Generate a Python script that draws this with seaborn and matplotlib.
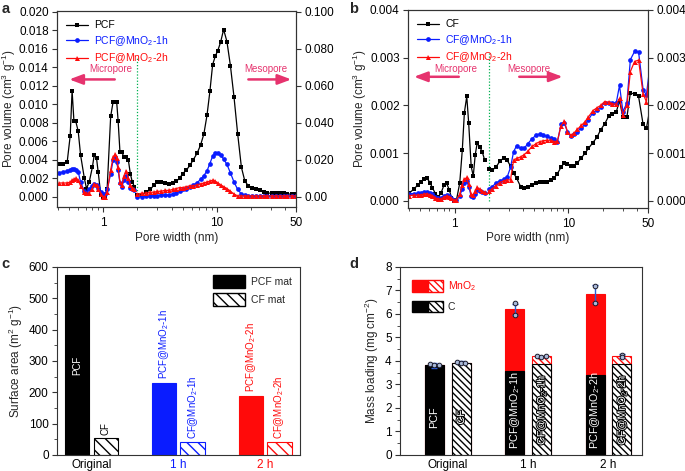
import matplotlib
matplotlib.use('Agg')
import matplotlib.pyplot as plt
import matplotlib.patheffects as pe
from matplotlib.lines import Line2D
from matplotlib.patches import Patch
from matplotlib.legend_handler import HandlerTuple
from matplotlib.ticker import FixedLocator, MultipleLocator, NullFormatter
import pandas as pd
import seaborn as sns

# ---------------- data ----------------
# panel a : PCF series (pore width nm, pore volume cm3/g)
a_micro_x = [0.41, 0.44, 0.48, 0.51, 0.53, 0.55, 0.57, 0.60, 0.63, 0.68,
             0.71, 0.75, 0.80, 0.83, 0.87, 0.90, 0.95, 0.99, 1.03, 1.08,
             1.16, 1.22, 1.27, 1.31, 1.35, 1.40, 1.46, 1.52, 1.59, 1.66,
             1.73, 1.80, 1.88]
a_pcf_micro = [0.0035, 0.0036, 0.0038, 0.0066, 0.0115, 0.0082, 0.0082, 0.0071, 0.0045, 0.0020,
               0.0009, 0.0016, 0.0032, 0.0045, 0.0042, 0.0027, 0.0002, 0.0000, 0.0000, 0.0009,
               0.0087, 0.0103, 0.0103, 0.0103, 0.0082, 0.0049, 0.0048, 0.0043, 0.0043, 0.0040,
               0.0025, 0.0016, 0.0011]
a_1h_micro = [0.0026, 0.0027, 0.0028, 0.0029, 0.0030, 0.0030, 0.0029, 0.0027, 0.0016, 0.0006,
              0.0004, 0.0008, 0.0012, 0.0014, 0.0013, 0.0010, 0.0005, 0.0003, 0.0003, 0.0008,
              0.0025, 0.0040, 0.0043, 0.0038, 0.0029, 0.0015, 0.0011, 0.0018, 0.0023, 0.0016,
              0.0010, 0.0008, 0.0007]
a_2h_micro = [0.0015, 0.0015, 0.0015, 0.0016, 0.0018, 0.0019, 0.0020, 0.0018, 0.0012, 0.0005,
              0.0004, 0.0004, 0.0009, 0.0014, 0.0013, 0.0009, 0.0003, 0.0000, 0.0000, 0.0005,
              0.0029, 0.0043, 0.0046, 0.0042, 0.0032, 0.0016, 0.0013, 0.0022, 0.0028, 0.0020,
              0.0013, 0.0010, 0.0008]
a_meso_x = [2.0, 2.2, 2.4, 2.6, 2.8, 3.0, 3.2, 3.5, 3.8, 4.1,
            4.4, 4.7, 5.0, 5.4, 5.8, 6.2, 6.7, 7.2, 7.7, 8.2,
            8.7, 9.2, 9.7, 10.2, 10.8, 11.5, 12.3, 13.2, 14.2, 15.3,
            16.5, 17.7, 19.0, 20.5, 22, 24, 26, 28, 30.5, 33,
            36, 39, 42, 46, 50]
a_pcf_meso = [0.0002, 0.0002, 0.0005, 0.0008, 0.0013, 0.0016, 0.0016, 0.0015, 0.0014, 0.0015,
              0.0017, 0.0020, 0.0025, 0.0029, 0.0034, 0.0040, 0.0047, 0.0056, 0.0068, 0.0088,
              0.0114, 0.0143, 0.0152, 0.0158, 0.0167, 0.0181, 0.0168, 0.0142, 0.0108, 0.0068,
              0.0032, 0.0017, 0.0012, 0.0010, 0.0008, 0.0007, 0.0005, 0.0004, 0.0004, 0.0004,
              0.0004, 0.0004, 0.0003, 0.0003, 0.0003]
a_1h_meso = [0.0000, 0.0000, 0.0001, 0.0001, 0.0001, 0.0001, 0.0002, 0.0002, 0.0002, 0.0003,
             0.0004, 0.0006, 0.0008, 0.0009, 0.0011, 0.0013, 0.0015, 0.0019, 0.0023, 0.0028,
             0.0036, 0.0044, 0.0047, 0.0047, 0.0045, 0.0041, 0.0035, 0.0026, 0.0016, 0.0008,
             0.0003, 0.0002, 0.0001, 0.0001, 0.0001, 0.0001, 0.0001, 0.0001, 0.0001, 0.0001,
             0.0001, 0.0001, 0.0001, 0.0001, 0.0001]
a_2h_meso = [0.0003, 0.0004, 0.0004, 0.0005, 0.0005, 0.0006, 0.0006, 0.0007, 0.0007, 0.0008,
             0.0009, 0.0010, 0.0010, 0.0011, 0.0012, 0.0012, 0.0013, 0.0014, 0.0015, 0.0016,
             0.0017, 0.0018, 0.0017, 0.0015, 0.0013, 0.0011, 0.0009, 0.0006, 0.0003, 0.0001,
             0.0001, 0.0001, 0.0001, 0.0001, 0.0001, 0.0001, 0.0001, 0.0001, 0.0001, 0.0001,
             0.0001, 0.0001, 0.0001, 0.0001, 0.0001]

# panel b : CF series
b_micro_x = [0.40, 0.44, 0.48, 0.51, 0.54, 0.57, 0.61, 0.64, 0.68, 0.72,
             0.76, 0.81, 0.85, 0.90, 0.94, 0.99, 1.04, 1.11, 1.17, 1.22,
             1.28, 1.33, 1.40, 1.46, 1.52, 1.58, 1.67, 1.75, 1.84]
b_cf_micro = [0.00016, 0.00025, 0.00034, 0.00040, 0.00046, 0.00048, 0.00038, 0.00027, 0.00015, 0.00008,
              0.00016, 0.00034, 0.00037, 0.00023, 0.00006, 0.00000, 0.00002, 0.00037, 0.00107, 0.00185,
              0.00219, 0.00164, 0.00072, 0.00052, 0.00097, 0.00121, 0.00112, 0.00103, 0.00085]
b_1h_micro = [0.00015, 0.00015, 0.00016, 0.00017, 0.00018, 0.00019, 0.00017, 0.00014, 0.00009, 0.00005,
              0.00006, 0.00010, 0.00012, 0.00011, 0.00006, 0.00002, 0.00002, 0.00010, 0.00025, 0.00038,
              0.00042, 0.00030, 0.00010, 0.00008, 0.00015, 0.00023, 0.00021, 0.00018, 0.00017]
b_2h_micro = [0.00011, 0.00012, 0.00012, 0.00013, 0.00014, 0.00015, 0.00013, 0.00011, 0.00006, 0.00004,
              0.00004, 0.00008, 0.00010, 0.00009, 0.00005, 0.00001, 0.00001, 0.00014, 0.00033, 0.00045,
              0.00049, 0.00035, 0.00014, 0.00012, 0.00020, 0.00028, 0.00024, 0.00020, 0.00018]
b_meso_x = [2.0, 2.15, 2.3, 2.5, 2.7, 2.9, 3.1, 3.3, 3.5, 3.8,
            4.1, 4.4, 4.8, 5.2, 5.6, 6.0, 6.5, 7.0, 7.5, 8.0,
            8.6, 9.2, 9.8, 10.5, 11.2, 12, 13, 14, 15, 16.4,
            17.8, 19.2, 20.8, 22.5, 24.2, 26.3, 28.1, 30.1, 32.6, 35,
            38.1, 41.3, 45.3, 48.4, 51.7]
b_cf_meso = [0.00066, 0.00065, 0.00070, 0.00083, 0.00090, 0.00085, 0.00073, 0.00058, 0.00048, 0.00030,
             0.00027, 0.00028, 0.00034, 0.00037, 0.00039, 0.00039, 0.00040, 0.00043, 0.00048, 0.00057,
             0.00070, 0.00080, 0.00077, 0.00073, 0.00073, 0.00080, 0.00090, 0.00100, 0.00110, 0.00122,
             0.00133, 0.00149, 0.00161, 0.00177, 0.00182, 0.00186, 0.00210, 0.00175, 0.00175, 0.00226,
             0.00224, 0.00219, 0.00160, 0.00152, 0.00190]
b_1h_meso = [0.00025, 0.00030, 0.00037, 0.00042, 0.00045, 0.00050, 0.00070, 0.00103, 0.00115, 0.00110,
             0.00110, 0.00120, 0.00130, 0.00138, 0.00140, 0.00138, 0.00135, 0.00132, 0.00130, 0.00123,
             0.00160, 0.00163, 0.00145, 0.00135, 0.00140, 0.00145, 0.00153, 0.00160, 0.00170, 0.00185,
             0.00190, 0.00197, 0.00206, 0.00206, 0.00205, 0.00205, 0.00242, 0.00187, 0.00205, 0.00296,
             0.00313, 0.00312, 0.00233, 0.00222, 0.00278]
b_2h_meso = [0.00021, 0.00025, 0.00032, 0.00038, 0.00042, 0.00044, 0.00044, 0.00085, 0.00089, 0.00092,
             0.00097, 0.00104, 0.00114, 0.00120, 0.00124, 0.00126, 0.00127, 0.00127, 0.00124, 0.00125,
             0.00157, 0.00167, 0.00145, 0.00137, 0.00142, 0.00150, 0.00158, 0.00166, 0.00176, 0.00189,
             0.00195, 0.00200, 0.00208, 0.00207, 0.00204, 0.00202, 0.00215, 0.00180, 0.00200, 0.00271,
             0.00292, 0.00295, 0.00224, 0.00208, 0.00270]

# panel c : surface area (m2/g)
groups = ['Original', '1 h', '2 h']
pcf_area = [575, 230, 188]
cf_area = [55, 43, 43]
c_pcf_labels = ['PCF', 'PCF@MnO$_2$-1h', 'PCF@MnO$_2$-2h']
c_cf_labels = ['CF', 'CF@MnO$_2$-1h', 'CF@MnO$_2$-2h']

# panel d : mass loading (mg/cm2)
pcf_c = [3.82, 3.57, 3.40]
pcf_mno2 = [0.00, 2.63, 3.45]
cf_c = [3.92, 3.87, 3.85]
cf_mno2 = [0.00, 0.33, 0.37]
pcf_err = [0.10, 0.24, 0.37]
cf_err = [0.07, 0.03, 0.09]
pcf_pts = [[3.86, 3.83, 3.81], [6.45, 5.97], [7.17, 6.45]]
cf_pts = [[3.95, 3.93, 3.92], [4.20, 4.19, 4.20], [4.27, 4.18]]

# ---------------- style ----------------
sns.set_style('ticks')
plt.rcParams['font.family'] = ['Liberation Sans', 'DejaVu Sans']
plt.rcParams['mathtext.fontset'] = 'custom'
plt.rcParams['mathtext.rm'] = 'Liberation Sans'
plt.rcParams['mathtext.it'] = 'Liberation Sans:italic'
plt.rcParams['mathtext.bf'] = 'Liberation Sans:bold'
plt.rcParams['axes.edgecolor'] = '#333333'
plt.rcParams['axes.linewidth'] = 0.8
plt.rcParams['xtick.color'] = '#333333'
plt.rcParams['ytick.color'] = '#333333'
plt.rcParams['xtick.labelcolor'] = 'black'
plt.rcParams['ytick.labelcolor'] = 'black'
plt.rcParams['xtick.major.size'] = 3.5
plt.rcParams['ytick.major.size'] = 3.5
plt.rcParams['xtick.minor.size'] = 2
plt.rcParams['ytick.minor.size'] = 2
plt.rcParams['xtick.major.width'] = 0.8
plt.rcParams['ytick.major.width'] = 0.8
plt.rcParams['xtick.minor.width'] = 0.6
plt.rcParams['ytick.minor.width'] = 0.6
plt.rcParams['ytick.major.pad'] = 2.5
plt.rcParams['hatch.linewidth'] = 1.0

BLUE = '#0a1cff'
RED = '#ff0a0a'
PINK = '#e6336e'
GREEN = '#00b050'
EBLUE = '#2a5ad8'
FS = 8.5

fig = plt.figure(figsize=(6.85, 4.71), dpi=100)
axa = fig.add_axes([0.0832, 0.5605, 0.3489, 0.4161])
axb = fig.add_axes([0.5956, 0.5584, 0.3504, 0.4204])
axc = fig.add_axes([0.0832, 0.0340, 0.3547, 0.3992])
axd = fig.add_axes([0.5839, 0.0340, 0.3533, 0.3992])


def curve(ax, x, y, color, marker, ms):
    sns.lineplot(x=x, y=y, ax=ax, color=color, marker=marker, markersize=ms,
                 markeredgewidth=0, linewidth=0.9, sort=False, estimator=None,
                 legend=False)


def pore_panel(ax, micro_x, meso_x, series, names, ylim, yticks, ylabels,
               rticks, rlabels, rscale, vline_top, texts):
    ax.set_xscale('log')
    for (mic, mes), name, (col, mk, ms) in zip(series, names,
                                               [('black', 's', 3.2), (BLUE, 'o', 3.4), (RED, '^', 3.6)]):
        curve(ax, micro_x, mic, col, mk, ms)
        curve(ax, meso_x, mes, col, mk, ms)
    ax.set_xlim(0.39, 50)
    ax.set_ylim(*ylim)
    ax.xaxis.set_major_locator(FixedLocator([1, 10, 50]))
    ax.set_xticklabels(['1', '10', '50'])
    ax.xaxis.set_minor_locator(FixedLocator([0.4, 0.5, 0.6, 0.7, 0.8, 0.9, 2, 3, 4, 5, 6, 7, 8, 9,
                                             20, 30, 40]))
    ax.xaxis.set_minor_formatter(NullFormatter())
    ax.set_yticks(yticks)
    ax.set_yticklabels(ylabels)
    ax.tick_params(labelsize=FS)
    ax.set_xlabel('Pore width (nm)', fontsize=FS, labelpad=2)
    ax.set_ylabel('Pore volume (cm$^3$ g$^{-1}$)', fontsize=FS, labelpad=1)
    ax.vlines(2, 0, vline_top, colors=GREEN, linestyles=(0, (1, 1.5)), linewidth=0.9, zorder=1)
    # micropore / mesopore annotations
    (mt, mty, ma0, ma1, ay), (st, sty, sa0, sa1) = texts
    ax.text(mt, mty, 'Micropore', color=PINK, fontsize=7, ha='center', va='center')
    ax.text(st, sty, 'Mesopore', color=PINK, fontsize=7, ha='center', va='center')
    arw = dict(arrowstyle='-|>,head_length=0.8,head_width=0.3', color=PINK, lw=1.8,
               shrinkA=0, shrinkB=0, mutation_scale=10)
    ax.annotate('', xy=(ma1, ay), xytext=(ma0, ay), arrowprops=arw)
    ax.annotate('', xy=(sa1, ay), xytext=(sa0, ay), arrowprops=arw)
    # legend
    handles = [Line2D([], [], color='black', marker='s', ms=3.2, mew=0, lw=0.9),
               Line2D([], [], color=BLUE, marker='o', ms=3.4, mew=0, lw=0.9),
               Line2D([], [], color=RED, marker='^', ms=3.6, mew=0, lw=0.9)]
    leg = ax.legend(handles, names, loc='upper left', frameon=False, fontsize=7.5,
                    handlelength=2.1, labelspacing=0.35, borderaxespad=0.5, handletextpad=0.6)
    for t, c in zip(leg.get_texts(), ['black', BLUE, RED]):
        t.set_color(c)
    # right axis
    ax2 = ax.twinx()
    ax2.set_ylim(ylim[0] * rscale, ylim[1] * rscale)
    ax2.set_yticks(rticks)
    ax2.set_yticklabels(rlabels)
    ax2.tick_params(labelsize=FS)
    ax2.grid(False)
    return ax2


pore_panel(axa, a_micro_x, a_meso_x,
           [(a_pcf_micro, a_pcf_meso), (a_1h_micro, a_1h_meso), (a_2h_micro, a_2h_meso)],
           ['PCF', 'PCF@MnO$_2$-1h', 'PCF@MnO$_2$-2h'],
           (-0.0011, 0.0201),
           [0, 0.002, 0.004, 0.006, 0.008, 0.010, 0.012, 0.014, 0.016, 0.018, 0.020],
           ['0.000', '0.002', '0.004', '0.006', '0.008', '0.010', '0.012', '0.014', '0.016',
            '0.018', '0.020'],
           [0, 0.02, 0.04, 0.06, 0.08, 0.10],
           ['0.00', '0.020', '0.040', '0.060', '0.080', '0.100'], 5, 0.0151,
           ((1.16, 0.0138, 1.26, 0.50, 0.0127), (27, 0.0138, 19, 45.5)))

pore_panel(axb, b_micro_x, b_meso_x,
           [(b_cf_micro, b_cf_meso), (b_1h_micro, b_1h_meso), (b_2h_micro, b_2h_meso)],
           ['CF', 'CF@MnO$_2$-1h', 'CF@MnO$_2$-2h'],
           (-0.00015, 0.004),
           [0, 0.001, 0.002, 0.003, 0.004],
           ['0.000', '0.001', '0.002', '0.003', '0.004'],
           [0, 0.001, 0.002, 0.003, 0.004],
           ['0.000', '0.001', '0.002', '0.003', '0.004'], 1, 0.0031,
           ((1.03, 0.00277, 1.09, 0.44, 0.00260), (4.45, 0.00277, 3.7, 8.9)))

# ---------------- panel c ----------------
dfc = pd.DataFrame({'group': groups * 2,
                    'mat': ['PCF mat'] * 3 + ['CF mat'] * 3,
                    'area': pcf_area + cf_area})
sns.barplot(data=dfc, x='group', y='area', hue='mat', order=groups,
            hue_order=['PCF mat', 'CF mat'], width=0.66, gap=0.15, errorbar=None,
            legend=False, saturation=1, ax=axc)
bars_c = sorted(axc.patches, key=lambda p: p.get_x())
grp_cols = ['black', BLUE, RED]
HC = '\\\\\\'
for i, p in enumerate(bars_c):
    col = grp_cols[i // 2]
    p.set_linewidth(0.8)
    if i % 2 == 0:
        p.set_facecolor(col)
        p.set_edgecolor(col)
    else:
        p.set_facecolor('white')
        p.set_edgecolor(col)
        p.set_hatch(HC)
for i in range(3):
    pb, cb = bars_c[2 * i], bars_c[2 * i + 1]
    xc_p = pb.get_x() + pb.get_width() / 2
    xc_c = cb.get_x() + cb.get_width() / 2
    if i == 0:
        axc.text(xc_p, pb.get_height() / 2, c_pcf_labels[i], color='white', rotation=90,
                 ha='center', va='center', fontsize=7)
    else:
        axc.text(xc_p, pb.get_height() + 12, c_pcf_labels[i], color=grp_cols[i], rotation=90,
                 ha='center', va='bottom', fontsize=7)
    axc.text(xc_c, cb.get_height() + 8, c_cf_labels[i], color=grp_cols[i], rotation=90,
             ha='center', va='bottom', fontsize=7)
axc.set_xlim(-0.396, 2.40)
axc.set_ylim(0, 600)
axc.yaxis.set_major_locator(MultipleLocator(100))
axc.yaxis.set_minor_locator(MultipleLocator(50))
axc.tick_params(labelsize=FS)
axc.tick_params(axis='x', length=0, pad=3)
for t, c in zip(axc.get_xticklabels(), grp_cols):
    t.set_color(c)
axc.set_xlabel('')
axc.set_ylabel('Surface area (m$^2$ g$^{-1}$)', fontsize=FS, labelpad=3)
for s in ['top', 'right']:
    axc.spines[s].set_visible(True)
legc = axc.legend([Patch(facecolor='black', edgecolor='black'),
                   Patch(facecolor='white', edgecolor='black', hatch=HC)],
                  ['PCF mat', 'CF mat'], loc='upper right', frameon=False, fontsize=7.5,
                  handlelength=3.0, handleheight=1.5, labelspacing=0.5,
                  borderaxespad=0.4, handletextpad=0.6)

# ---------------- panel d ----------------
HD = '\\\\\\\\\\'
tot_pcf = [c + m for c, m in zip(pcf_c, pcf_mno2)]
tot_cf = [c + m for c, m in zip(cf_c, cf_mno2)]
dfd_tot = pd.DataFrame({'group': groups * 2, 'mat': ['PCF'] * 3 + ['CF'] * 3,
                        'val': tot_pcf + tot_cf})
dfd_c = pd.DataFrame({'group': groups * 2, 'mat': ['PCF'] * 3 + ['CF'] * 3,
                      'val': pcf_c + cf_c})
bk = dict(x='group', y='val', hue='mat', order=groups, hue_order=['PCF', 'CF'],
          width=0.664, gap=0.286, errorbar=None, legend=False, saturation=1, ax=axd)
sns.barplot(data=dfd_tot, **bk)
n0 = len(axd.patches)
top_bars = sorted(axd.patches[:n0], key=lambda p: p.get_x())
sns.barplot(data=dfd_c, **bk)
c_bars = sorted(axd.patches[n0:], key=lambda p: p.get_x())
for i, p in enumerate(top_bars):
    p.set_linewidth(0.8)
    p.set_edgecolor(RED)
    if i % 2 == 0:
        p.set_facecolor(RED)
    else:
        p.set_facecolor('white')
        p.set_hatch(HD)
for i, p in enumerate(c_bars):
    p.set_linewidth(0.8)
    p.set_edgecolor('black')
    if i % 2 == 0:
        p.set_facecolor('black')
    else:
        p.set_facecolor('white')
        p.set_hatch(HD)

d_pcf_labels = ['PCF', 'PCF@MnO$_2$-1h', 'PCF@MnO$_2$-2h']
d_cf_labels = ['CF', 'CF@MnO$_2$-1h', 'CF@MnO$_2$-2h']
stroke = [pe.withStroke(linewidth=1.4, foreground='black')]
for i in range(3):
    pb, cb = c_bars[2 * i], c_bars[2 * i + 1]
    xp = pb.get_x() + pb.get_width() / 2
    xcf = cb.get_x() + cb.get_width() / 2
    yl = 1.6 if i == 0 else 1.93
    axd.text(xp, yl, d_pcf_labels[i], color='white', rotation=90, ha='center', va='center',
             fontsize=7.8)
    axd.text(xcf, yl, d_cf_labels[i], color='white', rotation=90, ha='center', va='center',
             fontsize=7.8, path_effects=stroke)
    for xb, tot, err, pts in [(xp, tot_pcf[i], pcf_err[i], pcf_pts[i]),
                              (xcf, tot_cf[i], cf_err[i], cf_pts[i])]:
        axd.errorbar([xb], [tot], yerr=[err], fmt='none', ecolor=EBLUE, elinewidth=1.0,
                     capsize=2.5, capthick=1.0, zorder=5)
        offs = [-0.055, 0.0, 0.055] if len(pts) == 3 and i != 2 else [0.0] * len(pts)
        axd.scatter([xb + o for o in offs], pts, s=11, facecolor='#a9b9d9',
                    edgecolor='#1a1a2a', linewidth=0.7, zorder=6)

axd.set_xlim(-0.593, 2.415)
axd.set_ylim(0, 8)
axd.yaxis.set_major_locator(MultipleLocator(1))
axd.yaxis.set_minor_locator(MultipleLocator(0.5))
axd.tick_params(labelsize=FS)
axd.tick_params(axis='x', length=0, pad=3)
axd.set_xlabel('')
axd.set_ylabel('Mass loading (mg cm$^{-2}$)', fontsize=FS, labelpad=3)
hd_m = (Patch(facecolor=RED, edgecolor=RED), Patch(facecolor='white', edgecolor=RED, hatch=HD))
hd_c = (Patch(facecolor='black', edgecolor='black'),
        Patch(facecolor='white', edgecolor='black', hatch=HD))
legd = axd.legend([hd_m, hd_c], ['MnO$_2$', 'C'],
                  handler_map={tuple: HandlerTuple(ndivide=None, pad=0)},
                  loc='upper left', frameon=False, fontsize=7.5, handlelength=2.9,
                  handleheight=1.3, labelspacing=0.7, borderaxespad=0.8, handletextpad=0.5)
legd.get_texts()[0].set_color(RED)

# panel letters
for x, y, s in [(0.002, 0.995, 'a'), (0.510, 0.995, 'b'), (0.002, 0.455, 'c'), (0.510, 0.455, 'd')]:
    fig.text(x, y, s, fontsize=10.5, fontweight='bold', va='top', ha='left')

fig.savefig('out.png', dpi=100)
